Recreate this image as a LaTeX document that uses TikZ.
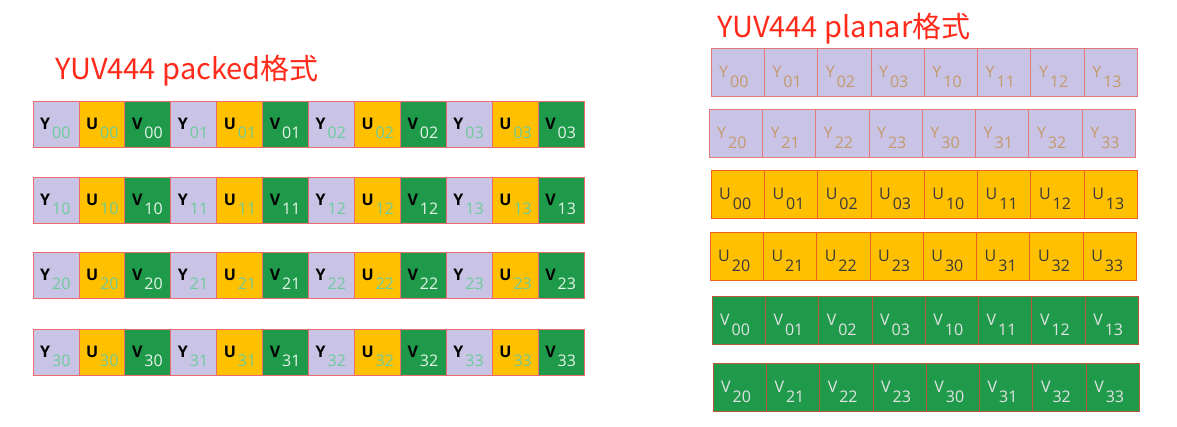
\documentclass[tikz,border=0pt]{standalone}
\usepackage{fontspec}
\setmainfont{Open Sans}
\newfontfamily\cjk{Noto Sans CJK SC}
\usetikzlibrary{calc}
\definecolor{ycol}{HTML}{C9C3E6}
\definecolor{ucol}{HTML}{FFC000}
\definecolor{vcol}{HTML}{1F9A4A}
\definecolor{pkborder}{HTML}{EE6B6B}
\definecolor{ybord}{HTML}{E27A7A}
\definecolor{ubord}{HTML}{F2601E}
\definecolor{vbord}{HTML}{B85A3A}
\definecolor{subg}{HTML}{6CCB9C}
\definecolor{subw}{HTML}{E4F4E8}
\definecolor{ytext}{HTML}{C49A6C}
\definecolor{utext}{HTML}{3A3A3A}
\definecolor{vtext}{HTML}{E2E2E2}
\definecolor{titlered}{HTML}{FF2A1A}
\begin{document}
\begin{tikzpicture}[x=1pt,y=-1pt,
  pcell/.style={draw=pkborder, line width=0.8pt, minimum width=45.92pt, minimum height=46pt, anchor=north west, inner sep=0pt, outer sep=0pt},
  plab/.style={anchor=base west, inner sep=0pt, font=\bfseries\fontsize{16}{16}\selectfont},
  qcell/.style={line width=0.8pt, minimum width=53.3pt, minimum height=48pt, anchor=north west, inner sep=0pt, outer sep=0pt},
  qlab/.style={anchor=base west, inner sep=0pt, font=\fontsize{16}{16}\selectfont},
  title/.style={anchor=base west, inner sep=0pt, text=titlered, font=\cjk\fontsize{29}{30}\selectfont}]
\useasboundingbox (0,0) rectangle (1177,426);
\fill[white] (0,0) rectangle (1177,426);
% titles
\node[title] (tpacked) at (55,79) {YUV444 packed格式};
\node[title] (tplanar) at (717,37) {YUV444 planar格式};
% packed rows
\foreach \r/\yy in {0/101,1/177,2/252,3/329} {
  \foreach \c in {0,...,11} {
    \pgfmathtruncatemacro\tp{mod(\c,3)}
    \pgfmathtruncatemacro\jj{div(\c,3)}
    \pgfmathsetmacro\xx{33+\c*45.92}
    \edef\fc{\ifcase\tp ycol\or ucol\or vcol\fi}
    \edef\lt{\ifcase\tp Y\or U\or V\fi}
    \edef\sc{\ifcase\tp subg\or subg\or subw\fi}
    \node[pcell, fill=\fc] (p\r\c) at (\xx,\yy) {};
    \node[plab] (pl\r\c) at ($(p\r\c.north west)+(7,28)$) {\lt\hspace{2pt}\raisebox{-9pt}{\mdseries\color{\sc}\r\jj}};
  }
}
% planar rows
\foreach \r/\yy/\xl/\lt/\fc/\bc/\tc/\aa in {0/48/711/Y/ycol/ybord/ytext/0, 1/109/709/Y/ycol/ybord/ytext/2, 2/170/711/U/ucol/ubord/utext/0, 3/232/710/U/ucol/ubord/utext/2, 4/296/712/V/vcol/vbord/vtext/0, 5/363/713/V/vcol/vbord/vtext/2} {
  \foreach \c in {0,...,7} {
    \pgfmathtruncatemacro\da{\aa+div(\c,4)}
    \pgfmathtruncatemacro\db{mod(\c,4)}
    \pgfmathsetmacro\xx{\xl+\c*53.3}
    \node[qcell, draw=\bc, fill=\fc] (q\r\c) at (\xx,\yy) {};
    \node[qlab, text=\tc] (ql\r\c) at ($(q\r\c.north west)+(8,29)$) {\lt\hspace{2pt}\raisebox{-10pt}{\da\db}};
  }
}
\end{tikzpicture}
\end{document}
